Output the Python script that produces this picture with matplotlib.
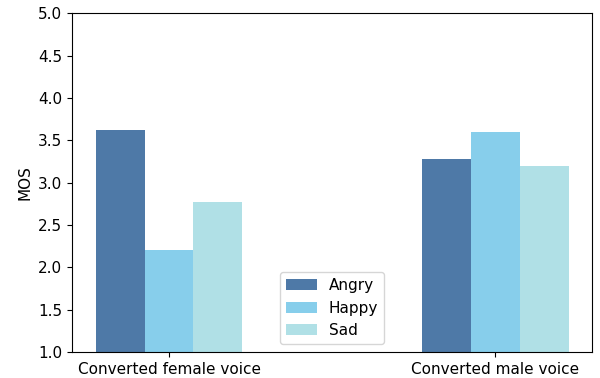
import matplotlib.pyplot as plt
import numpy as np

groups = ["Converted female voice", "Converted male voice"]
emotions = ["Angry", "Happy", "Sad"]
angry = [3.62, 3.28]
happy = [2.20, 3.60]
sad = [2.77, 3.20]
colors = ["#4e79a7", "#87ceeb", "#b0e0e6"]

plt.rcParams["font.size"] = 11

fig = plt.figure(figsize=(6, 3.78), dpi=100)
ax = fig.add_axes([0.12, 0.069, 0.867, 0.896])

x = np.arange(len(groups))
width = 0.15
for i, (vals, name) in enumerate(zip([angry, happy, sad], emotions)):
    ax.bar(x + (i - 1) * width, np.array(vals) - 1, width, bottom=1,
           color=colors[i], label=name)

ax.set_ylim(1, 5)
ax.set_yticks(np.arange(1, 5.01, 0.5))
ax.set_xticks(x)
ax.set_xticklabels(groups)
ax.set_ylabel("MOS")
ax.legend(loc="lower center")

plt.savefig("out.png", dpi=100)
